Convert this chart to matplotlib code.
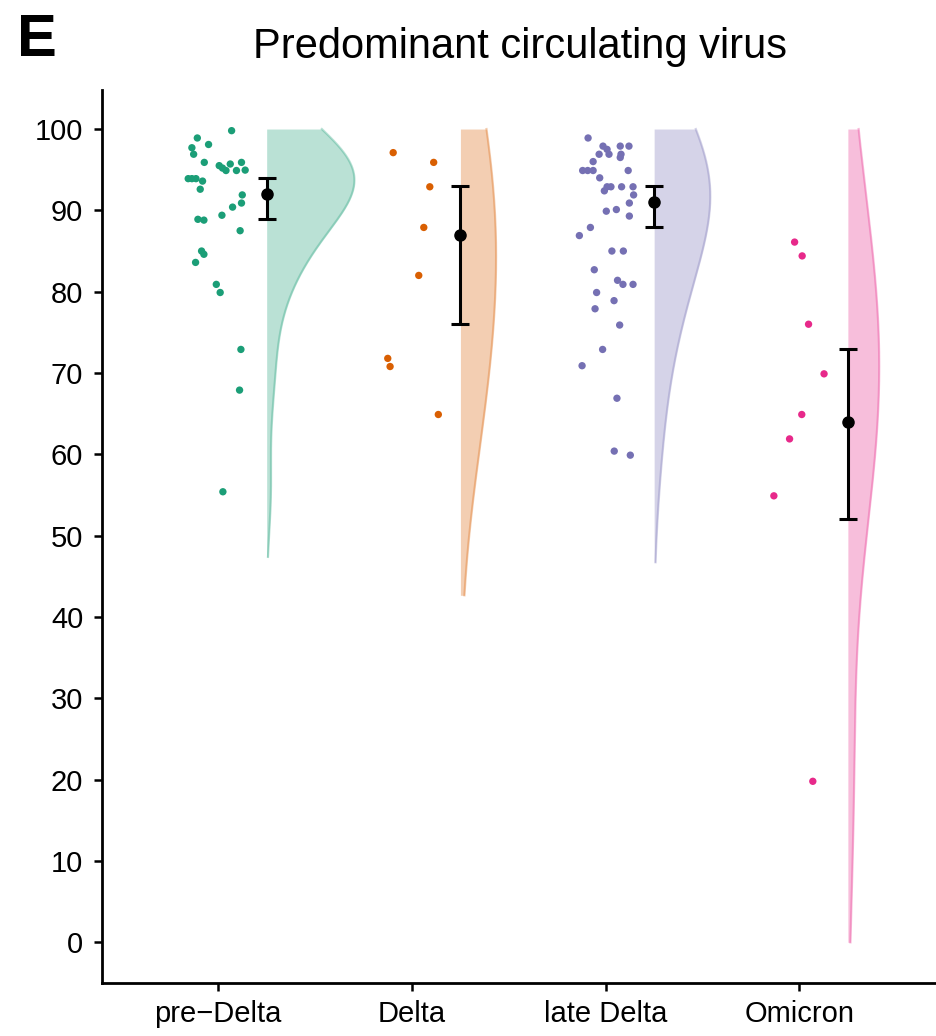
import numpy as np
import matplotlib
matplotlib.use("Agg")
import matplotlib.pyplot as plt

plt.rcParams['font.family'] = ['Liberation Sans', 'DejaVu Sans']

categories = ["pre\u2212Delta", "Delta", "late Delta", "Omicron"]
colors = ["#1B9E77", "#D95F02", "#7570B3", "#E7298A"]

pre_delta_vals = [99.8, 98.9, 98.1, 97.7, 96.9, 95.9, 95.5, 95.2, 94.9, 95.7, 95.9,
                  94.9, 94.95, 93.9, 93.9, 93.9, 93.6, 92.6, 91.9, 90.9, 90.4, 89.4,
                  88.9, 88.8, 87.5, 85.0, 84.6, 83.6, 80.9, 79.9, 72.9, 67.9, 55.4]
pre_delta_jit = [0.069, -0.108, -0.050, -0.136, -0.127, -0.072, 0.005, 0.022, 0.040,
                 0.062, 0.120, 0.094, 0.139, -0.155, -0.136, -0.115, -0.081, -0.093,
                 0.124, 0.120, 0.074, 0.019, -0.105, -0.074, 0.113, -0.086, -0.074,
                 -0.117, -0.010, 0.010, 0.117, 0.110, 0.024]

delta_vals = [97.1, 95.9, 92.9, 87.9, 82.0, 71.8, 70.8, 64.9]
delta_jit = [-0.097, 0.112, 0.092, 0.061, 0.035, -0.125, -0.113, 0.136]

late_delta_vals = [98.9, 97.9, 97.5, 96.9, 96.9, 97.9, 97.9, 96.9, 96.5, 96.0, 94.9,
                   94.9, 94.9, 94.9, 94.0, 92.9, 92.9, 92.4, 92.9, 92.9, 91.9, 90.9,
                   89.9, 90.1, 89.3, 87.9, 86.9, 85.0, 85.0, 82.7, 81.4, 80.9, 80.9,
                   79.9, 78.9, 77.9, 75.9, 72.9, 70.9, 66.9, 60.4, 59.9]
late_delta_jit = [-0.091, -0.014, 0.007, 0.017, -0.034, 0.075, 0.120, 0.079, 0.075,
                  -0.065, -0.119, -0.093, -0.065, 0.116, -0.031, 0.007, 0.027, -0.007,
                  0.082, 0.141, 0.144, 0.122, 0.003, 0.055, 0.122, -0.079, -0.136,
                  0.032, 0.091, -0.059, 0.061, 0.089, 0.141, -0.047, 0.043, -0.055,
                  0.072, -0.016, -0.122, 0.058, 0.044, 0.127]

omicron_vals = [86.1, 84.4, 76.0, 69.9, 64.9, 61.9, 54.9, 19.8]
omicron_jit = [-0.025, 0.014, 0.047, 0.127, 0.012, -0.051, -0.132, 0.069]

centers = [92.0, 87.0, 91.0, 64.0]
lower = [89.0, 76.0, 88.0, 52.0]
upper = [94.0, 93.0, 93.0, 73.0]

groups_vals = [pre_delta_vals, delta_vals, late_delta_vals, omicron_vals]
groups_jit = [pre_delta_jit, delta_jit, late_delta_jit, omicron_jit]

ADJUST = 2.0
CUT = 3.0


def nrd0(x):
    x = np.asarray(x, float)
    sd = np.std(x, ddof=1)
    q1, q3 = np.percentile(x, [25, 75])
    lo = min(sd, (q3 - q1) / 1.34)
    if lo <= 0:
        lo = sd
    return 0.9 * lo * len(x) ** (-0.2)


def kde(x, grid, bw):
    x = np.asarray(x, float)
    z = (grid[:, None] - x[None, :]) / bw
    return np.exp(-0.5 * z ** 2).sum(axis=1) / (len(x) * bw * np.sqrt(2 * np.pi))


fig = plt.figure(figsize=(9.37, 10.36), dpi=100)
ax = fig.add_axes([102 / 937, 1 - 983 / 1036, 1 - 102 / 937, (983 - 90) / 1036])

dens_list = []
for vals in groups_vals:
    bw = nrd0(vals)
    lo = max(0.0, min(vals) - CUT * bw)
    hi = min(100.0, max(vals) + CUT * bw)
    grid = np.linspace(lo, hi, 512)
    dens_list.append((grid, kde(vals, grid, bw * ADJUST)))
gmax = max(d.max() for _, d in dens_list)
max_width = 0.453
offset = 0.25

for i, (vals, jit) in enumerate(zip(groups_vals, groups_jit)):
    pos = i + 1
    c = colors[i]
    grid, d = dens_list[i]
    w = d / gmax * max_width
    base = pos + offset
    ax.fill_betweenx(grid, base, base + w, color=c, alpha=0.3, lw=0, zorder=1)
    ax.plot(base + w, grid, color=c, alpha=0.3, lw=1.6, zorder=1.5)
    ax.scatter(pos + np.asarray(jit), vals, s=28, color=c, edgecolors='none', zorder=3)
    ax.errorbar([base], [centers[i]],
                yerr=[[centers[i] - lower[i]], [upper[i] - centers[i]]],
                fmt='o', color='black', ms=8, elinewidth=2.2, capsize=6.8,
                capthick=2.2, zorder=4)

ax.set_xlim(0.4, 4.71)
ax.set_ylim(-5, 104.8)
ax.set_xticks([1, 2, 3, 4])
ax.set_xticklabels(categories)
ax.set_yticks(np.arange(0, 101, 10))
for s in ['top', 'right']:
    ax.spines[s].set_visible(False)
for s in ['left', 'bottom']:
    ax.spines[s].set_linewidth(2.0)
ax.tick_params(axis='both', length=5.5, width=1.8, labelsize=21, color='black',
               labelcolor='black', direction='out')
ax.tick_params(axis='y', pad=8)
ax.tick_params(axis='x', pad=7)

fig.text(0.555, 0.955, "Predominant circulating virus", ha='center', va='center',
         fontsize=30)
fig.text(0.018, 0.961, "E", ha='left', va='center', fontsize=43, fontweight='bold')

fig.savefig("out.png", dpi=100)
